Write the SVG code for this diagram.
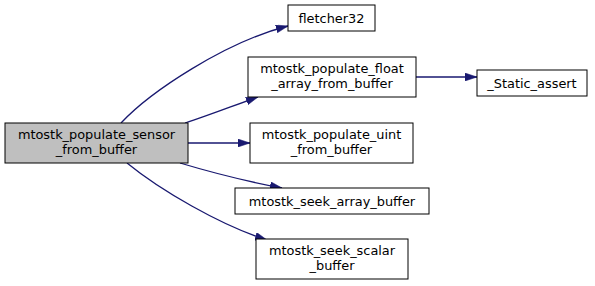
<svg xmlns="http://www.w3.org/2000/svg" width="595" height="286" viewBox="0 0 595 286">
<style>
  .node rect { fill: #ffffff; stroke: #000000; stroke-width: 1; }
  .node.main rect { fill: #bfbfbf; }
  text { font-family: "DejaVu Sans", "Liberation Sans", sans-serif; font-size: 12.9px; fill: #000000; text-anchor: middle; }
  .edge { fill: none; stroke: #191970; stroke-width: 1.3; }
</style>
<defs>
  <marker id="arrow" viewBox="0 0 12 8" refX="12" refY="4" markerWidth="12" markerHeight="8" markerUnits="userSpaceOnUse" orient="auto">
    <polygon points="0,0 12,4 0,8" fill="#191970" stroke="#191970" stroke-width="0.5"/>
  </marker>
</defs>
<rect width="595" height="286" fill="#ffffff"/>

<g id="connectors">
  <path class="edge" marker-end="url(#arrow)" d="M121,123 C150,92 225,42 288,26"/>
  <path class="edge" marker-end="url(#arrow)" d="M185,123 C210,115 235,105 258,97"/>
  <path class="edge" marker-end="url(#arrow)" d="M188,143 L250,143"/>
  <path class="edge" marker-end="url(#arrow)" d="M180,163 C210,172 250,182 282,188"/>
  <path class="edge" marker-end="url(#arrow)" d="M127,163 C160,190 220,225 267,240"/>
  <path class="edge" marker-end="url(#arrow)" d="M416,77 L477,77"/>
</g>

<g id="node-main" class="node main">
  <rect x="5" y="123" width="183" height="40"/>
  <text x="96.5" y="139">mtostk_populate_sensor</text>
  <text x="96.5" y="154">_from_buffer</text>
</g>

<g id="node-fletcher32" class="node">
  <rect x="288" y="5" width="87" height="26"/>
  <text x="331.5" y="22.5">fletcher32</text>
</g>

<g id="node-float" class="node">
  <rect x="248" y="57" width="168" height="40"/>
  <text x="332" y="73">mtostk_populate_float</text>
  <text x="332" y="88">_array_from_buffer</text>
</g>

<g id="node-static-assert" class="node">
  <rect x="477" y="70" width="110" height="26"/>
  <text x="532" y="87.5">_Static_assert</text>
</g>

<g id="node-uint" class="node">
  <rect x="250" y="123" width="163" height="40"/>
  <text x="331.5" y="139">mtostk_populate_uint</text>
  <text x="331.5" y="154">_from_buffer</text>
</g>

<g id="node-seek-array" class="node">
  <rect x="235" y="188" width="194" height="26"/>
  <text x="332" y="205.5">mtostk_seek_array_buffer</text>
</g>

<g id="node-seek-scalar" class="node">
  <rect x="256" y="239" width="152" height="40"/>
  <text x="332" y="255">mtostk_seek_scalar</text>
  <text x="332" y="270">_buffer</text>
</g>
</svg>
